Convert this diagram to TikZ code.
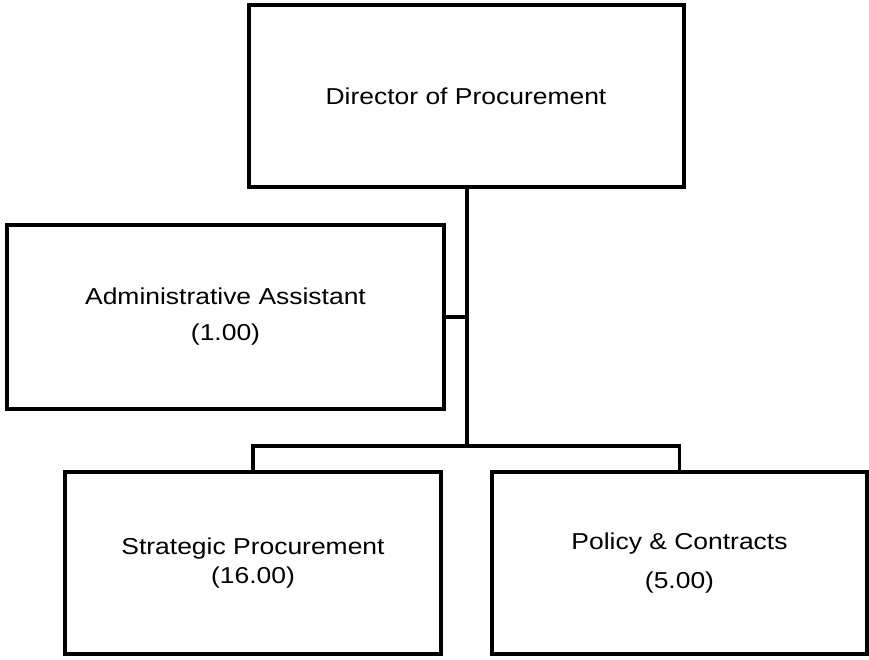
\documentclass[tikz,border=0pt]{standalone}
\usepackage{fontspec}
\setmainfont{Liberation Sans}[FakeStretch=1.15]
\begin{document}
\begin{tikzpicture}[x=1pt,y=-1pt,
  box/.style={draw=black,line width=4pt,rectangle,align=center,inner sep=0pt,
    font=\fontsize{23}{30}\selectfont},
  conn/.style={draw=black,line width=3.5pt}]
\useasboundingbox (0,0) rectangle (869,659);
\node[box,minimum width=435pt,minimum height=182pt] (dir) at (466,96) {Director of Procurement};
\node[box,minimum width=437pt,minimum height=184pt] (adm) at (225.5,317) {Administrative Assistant\\[6pt](1.00)};
\node[box,minimum width=376pt,minimum height=182pt] (str) at (253,563) {Strategic Procurement\\[-1pt](16.00)};
\node[box,minimum width=375pt,minimum height=182pt] (pol) at (679.5,563) {Policy \& Contracts\\[9pt](5.00)};
\coordinate (j) at (467,446);
\draw[conn] (dir.south -| j) -- (j);
\draw[conn] (adm.east) -- (adm.east -| j);
\draw[conn] (j) -- (j -| str.north) -- (str.north);
\draw[conn] (j) -- (j -| pol.north) -- (pol.north);
\end{tikzpicture}
\end{document}
